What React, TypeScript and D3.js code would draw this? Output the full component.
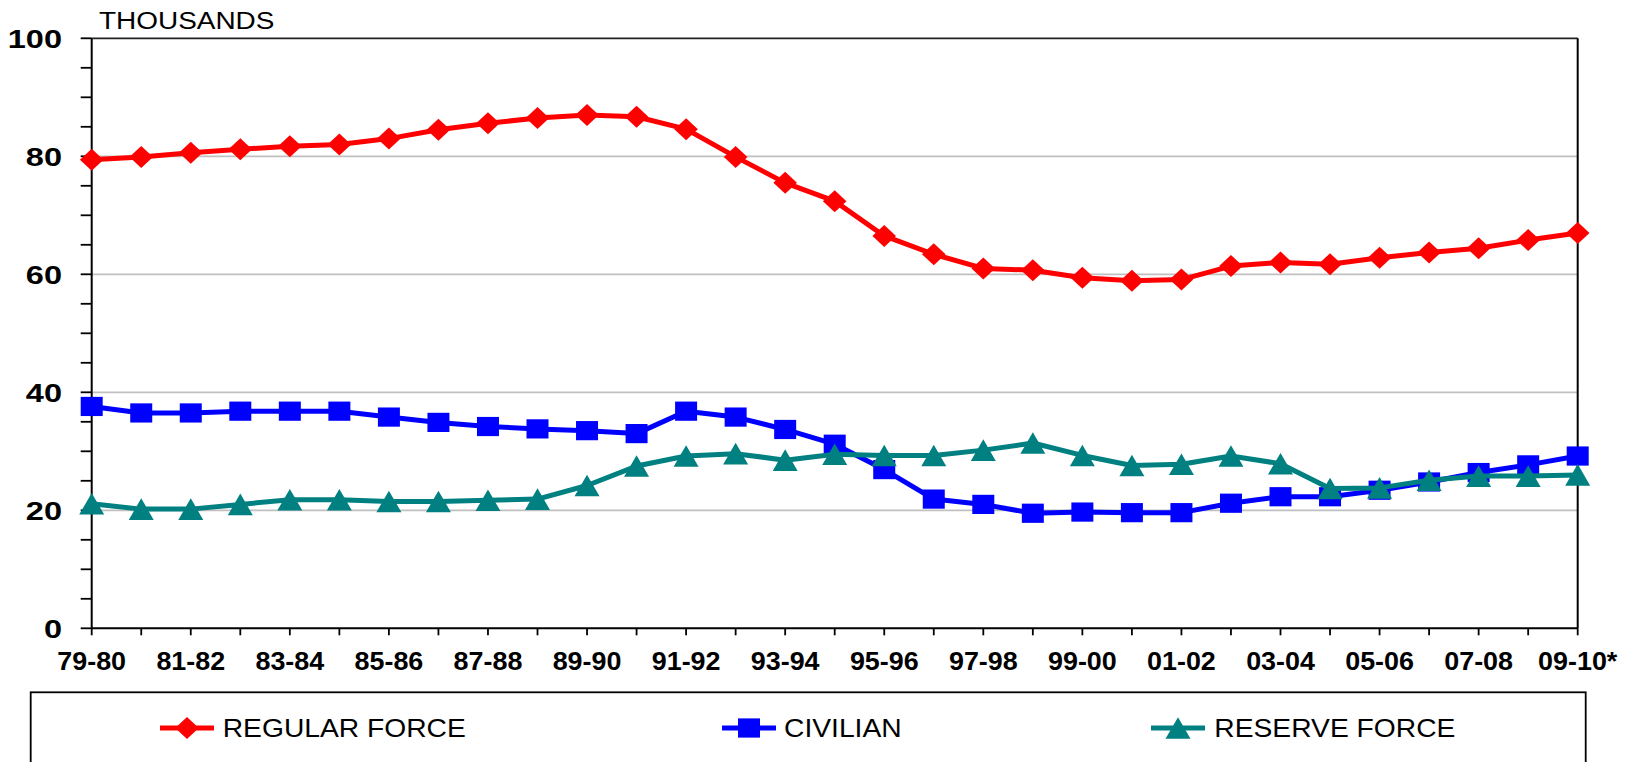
import React from "react";
import * as d3 from "d3";

const categories = [
  "79-80", "80-81", "81-82", "82-83", "83-84", "84-85", "85-86", "86-87", "87-88", "88-89",
  "89-90", "90-91", "91-92", "92-93", "93-94", "94-95", "95-96", "96-97", "97-98", "98-99",
  "99-00", "00-01", "01-02", "02-03", "03-04", "04-05", "05-06", "06-07", "07-08", "08-09", "09-10*",
];

const regularForce = [
  79.4, 79.9, 80.6, 81.2, 81.7, 82.0, 83.0, 84.5, 85.6, 86.5, 87.0, 86.7, 84.6, 79.9, 75.5, 72.4,
  66.5, 63.4, 61.0, 60.7, 59.4, 58.9, 59.1, 61.4, 62.0, 61.7, 62.8, 63.7, 64.4, 65.8, 67.0,
];

const civilian = [
  37.6, 36.5, 36.5, 36.8, 36.8, 36.8, 35.8, 34.9, 34.2, 33.8, 33.5, 33.0, 36.8, 35.8, 33.7, 31.2,
  26.9, 21.9, 21.0, 19.5, 19.7, 19.6, 19.6, 21.2, 22.3, 22.3, 23.4, 24.8, 26.4, 27.7, 29.2,
];

const reserveForce = [
  21.1, 20.2, 20.2, 21.0, 21.8, 21.8, 21.5, 21.5, 21.7, 21.9, 24.2, 27.5, 29.2, 29.6, 28.5, 29.5,
  29.3, 29.3, 30.2, 31.4, 29.3, 27.6, 27.8, 29.2, 27.9, 23.7, 23.8, 25.1, 25.8, 25.8, 26.0,
];

const seriesNames = ["REGULAR FORCE", "CIVILIAN", "RESERVE FORCE"];
const yMajorTicks = [0, 20, 40, 60, 80, 100];
const yUnitLabel = "THOUSANDS";

const FONT = "'Liberation Sans', Arial, Helvetica, sans-serif";

type MarkerKind = "diamond" | "square" | "triangle";

function Marker({ kind, cx, cy, color }: { kind: MarkerKind; cx: number; cy: number; color: string }) {
  if (kind === "diamond") {
    const w = 11.8, h = 11;
    return <polygon points={`${cx - w},${cy} ${cx},${cy - h} ${cx + w},${cy} ${cx},${cy + h}`} fill={color} />;
  }
  if (kind === "square") {
    const w = 11, h = 9.6;
    return <rect x={cx - w} y={cy - h} width={2 * w} height={2 * h} fill={color} />;
  }
  const w = 12.5, h = 10.8;
  return <polygon points={`${cx - w},${cy + h} ${cx},${cy - h} ${cx + w},${cy + h}`} fill={color} />;
}

export default function App() {
  const left = 91.7, right = 1577.7, top = 38.3, bottom = 628.3;
  const x = d3.scalePoint<string>().domain(categories).range([left, right]);
  const y = d3.scaleLinear().domain([0, 100]).range([bottom, top]);

  const series = [
    { name: seriesNames[0], values: regularForce, color: "#FF0000", marker: "diamond" as MarkerKind },
    { name: seriesNames[1], values: civilian, color: "#0000FF", marker: "square" as MarkerKind },
    { name: seriesNames[2], values: reserveForce, color: "#008080", marker: "triangle" as MarkerKind },
  ];

  const line = d3
    .line<number>()
    .x((_, i) => x(categories[i]) as number)
    .y((d) => y(d));

  const minorTicks = y.ticks(20);
  const gridTicks = yMajorTicks.filter((t) => t > 0 && t < 100);

  const legendItems = [
    { lineX: 160, textX: 222.7 },
    { lineX: 722, textX: 784 },
    { lineX: 1151, textX: 1214.3 },
  ];
  const legendY = 728;

  return (
    <svg
      width={1630}
      height={762}
      style={{ position: "absolute", left: 0, top: 0, background: "#fff" }}
      fontFamily={FONT}
    >
      <rect x={0} y={0} width={1630} height={762} fill="#fff" />
      {gridTicks.map((t) => (
        <line key={"g" + t} x1={left} x2={right} y1={y(t)} y2={y(t)} stroke="#C0C0C0" strokeWidth={1.8} />
      ))}
      <line x1={left} x2={right} y1={top} y2={top} stroke="#222" strokeWidth={1.8} />
      <line x1={right} x2={right} y1={top} y2={bottom} stroke="#000" strokeWidth={2} />

      <line x1={left} x2={left} y1={top} y2={bottom} stroke="#000" strokeWidth={2} />
      {minorTicks.map((t) => (
        <line key={"yt" + t} x1={left - 11} x2={left} y1={y(t)} y2={y(t)} stroke="#000" strokeWidth={1.8} />
      ))}
      {yMajorTicks.map((t) => (
        <text
          key={"yl" + t}
          transform={`translate(62,${y(t) + 9.4}) scale(1.25,1)`}
          textAnchor="end"
          fontSize={26}
          fontWeight="bold"
          fill="#000"
        >
          {t}
        </text>
      ))}
      <text transform={`translate(99,29.3) scale(1.2,1)`} fontSize={23.3} fill="#000">
        {yUnitLabel}
      </text>

      <line x1={left} x2={right} y1={bottom} y2={bottom} stroke="#000" strokeWidth={2} />
      {categories.map((c) => (
        <line key={"xt" + c} x1={x(c)} x2={x(c)} y1={bottom} y2={bottom + 7} stroke="#000" strokeWidth={1.8} />
      ))}
      {categories.map((c, i) =>
        i % 2 === 0 ? (
          <text
            key={"xl" + c}
            transform={`translate(${x(c)},670) scale(1.05,1)`}
            textAnchor="middle"
            fontSize={25.6}
            fontWeight="bold"
            fill="#000"
          >
            {c}
          </text>
        ) : null
      )}

      {series.map((s) => (
        <g key={s.name}>
          <path d={line(s.values) || ""} fill="none" stroke={s.color} strokeWidth={5} strokeLinejoin="round" />
          {s.values.map((v, i) => (
            <Marker key={i} kind={s.marker} cx={x(categories[i]) as number} cy={y(v)} color={s.color} />
          ))}
        </g>
      ))}

      <rect x={30.7} y={692.3} width={1555} height={100} fill="none" stroke="#000" strokeWidth={1.8} />
      {series.map((s, i) => {
        const it = legendItems[i];
        return (
          <g key={"lg" + s.name}>
            <line x1={it.lineX} x2={it.lineX + 54} y1={legendY} y2={legendY} stroke={s.color} strokeWidth={5} />
            <Marker kind={s.marker} cx={it.lineX + 27} cy={legendY} color={s.color} />
            <text transform={`translate(${it.textX},737.3) scale(1.13,1)`} fontSize={25} fill="#000">
              {s.name}
            </text>
          </g>
        );
      })}
    </svg>
  );
}
